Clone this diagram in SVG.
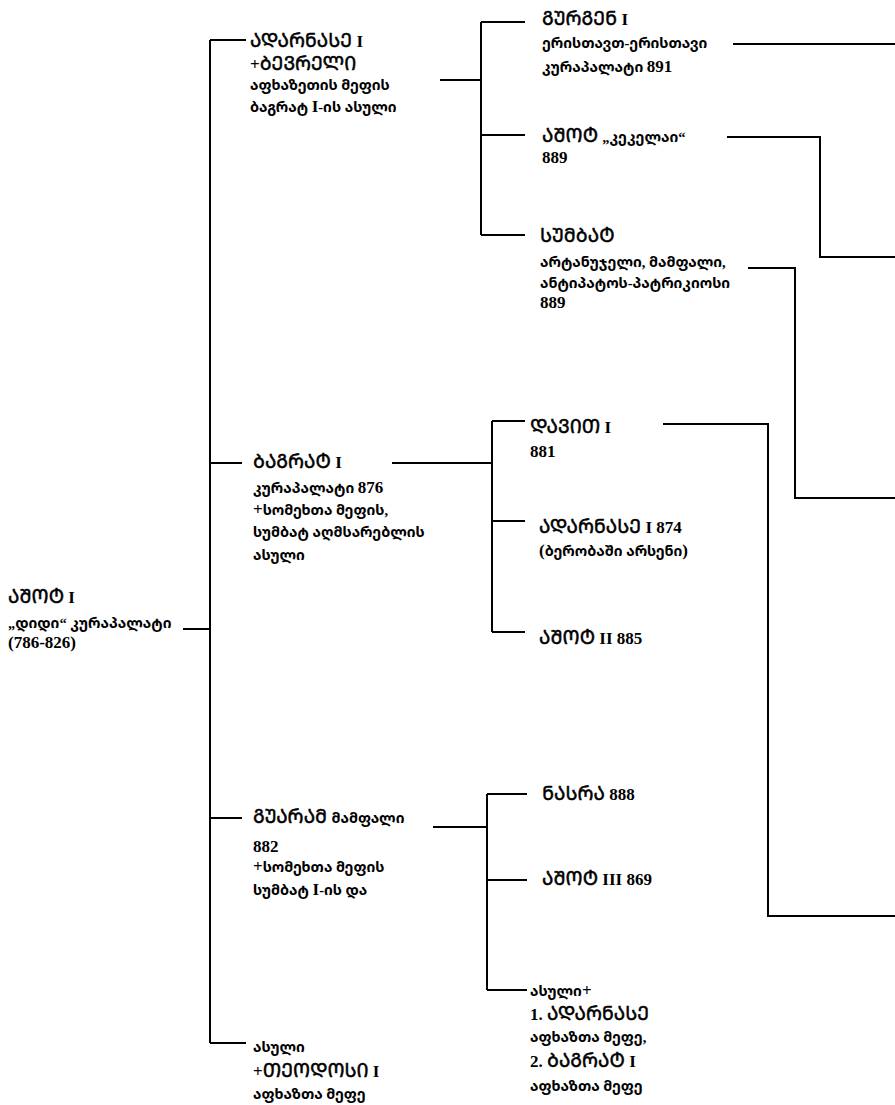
<svg xmlns="http://www.w3.org/2000/svg" width="895" height="1105" viewBox="0 0 895 1105">
<style>
.t{font-family:"Liberation Serif","Noto Sans Georgian","DejaVu Sans",serif;font-size:17px;font-weight:bold;fill:#000}
.m{font-size:19px;font-weight:normal;stroke:#000;stroke-width:0.5px}
.k{font-size:14.5px}
.c{stroke:#000;stroke-width:2;fill:none}
</style>
<rect width="895" height="1105" fill="#fff"/>
<g id="connectors">
<path class="c" d="M183 629H210M210 40V1043M210 40H246M210 463H242M210 818H242M210 1043H246"/>
<path class="c" d="M440 80H481M481 22V235M481 22H525M481 135H525M481 235H525"/>
<path class="c" d="M733 44H895"/>
<path class="c" d="M727 137H820V257H895"/>
<path class="c" d="M748 268H795V498H895"/>
<path class="c" d="M392 463H492M492 421V632M492 421H525M492 521H525M492 632H525"/>
<path class="c" d="M663 424H768V916H895"/>
<path class="c" d="M433 827H487M487 794V990M487 794H527M487 880H527M487 990H527"/>
</g>
<g id="ashot-i">
<text class="t" x="8" y="603"><tspan class="m">ᲐᲨᲝᲢ</tspan> I</text>
<text class="t k" x="8" y="628">„დიდი“ კურაპალატი</text>
<text class="t" x="8" y="648">(786-826)</text>
</g>
<g id="adarnase-i">
<text class="t" x="250" y="47"><tspan class="m">ᲐᲓᲐᲠᲜᲐᲡᲔ</tspan> I</text>
<text class="t" x="250" y="70">+<tspan class="m">ᲑᲔᲕᲠᲔᲚᲘ</tspan></text>
<text class="t k" x="250" y="90">აფხაზეთის მეფის</text>
<text class="t" x="250" y="112"><tspan class="k">ბაგრატ </tspan>I<tspan class="k">-ის ასული</tspan></text>
</g>
<g id="gurgen-i">
<text class="t" x="542" y="25"><tspan class="m">ᲒᲣᲠᲒᲔᲜ</tspan> I</text>
<text class="t k" x="542" y="48">ერისთავთ-ერისთავი</text>
<text class="t" x="542" y="72"><tspan class="k">კურაპალატი </tspan>891</text>
</g>
<g id="ashot-kekelai">
<text class="t" x="542" y="142"><tspan class="m">ᲐᲨᲝᲢ</tspan> <tspan class="k">„კეკელაი“</tspan></text>
<text class="t" x="542" y="163">889</text>
</g>
<g id="sumbat">
<text class="t m" x="540" y="242">ᲡᲣᲛᲑᲐᲢ</text>
<text class="t k" x="540" y="267">არტანუჯელი, მამფალი,</text>
<text class="t k" x="540" y="288">ანტიპატოს-პატრიკიოსი</text>
<text class="t" x="540" y="308">889</text>
</g>
<g id="bagrat-i">
<text class="t" x="253" y="468"><tspan class="m">ᲑᲐᲒᲠᲐᲢ</tspan> I</text>
<text class="t" x="253" y="493"><tspan class="k">კურაპალატი </tspan>876</text>
<text class="t" x="253" y="515">+<tspan class="k">სომეხთა მეფის,</tspan></text>
<text class="t k" x="253" y="537">სუმბატ აღმსარებლის</text>
<text class="t k" x="253" y="560">ასული</text>
</g>
<g id="davit-i">
<text class="t" x="530" y="433"><tspan class="m">ᲓᲐᲕᲘᲗ</tspan> I</text>
<text class="t" x="530" y="457">881</text>
</g>
<g id="adarnase-874">
<text class="t" x="539" y="533"><tspan class="m">ᲐᲓᲐᲠᲜᲐᲡᲔ</tspan> I 874</text>
<text class="t" x="539" y="556">(<tspan class="k">ბერობაში არსენი</tspan>)</text>
</g>
<g id="ashot-ii">
<text class="t" x="539" y="644"><tspan class="m">ᲐᲨᲝᲢ</tspan> II 885</text>
</g>
<g id="guaram">
<text class="t" x="253" y="823"><tspan class="m">ᲒᲣᲐᲠᲐᲛ</tspan> <tspan class="k">მამფალი</tspan></text>
<text class="t" x="253" y="852">882</text>
<text class="t" x="253" y="872">+<tspan class="k">სომეხთა მეფის</tspan></text>
<text class="t" x="253" y="895"><tspan class="k">სუმბატ </tspan>I<tspan class="k">-ის და</tspan></text>
</g>
<g id="nasra">
<text class="t" x="542" y="800"><tspan class="m">ᲜᲐᲡᲠᲐ</tspan> 888</text>
</g>
<g id="ashot-iii">
<text class="t" x="542" y="885"><tspan class="m">ᲐᲨᲝᲢ</tspan> III 869</text>
</g>
<g id="daughter-guaram">
<text class="t" x="530" y="996"><tspan class="k">ასული</tspan>+</text>
<text class="t" x="530" y="1020">1. <tspan class="m">ᲐᲓᲐᲠᲜᲐᲡᲔ</tspan></text>
<text class="t k" x="530" y="1042">აფხაზთა მეფე,</text>
<text class="t" x="530" y="1067">2. <tspan class="m">ᲑᲐᲒᲠᲐᲢ</tspan> I</text>
<text class="t k" x="530" y="1091">აფხაზთა მეფე</text>
</g>
<g id="daughter-ashot">
<text class="t k" x="253" y="1052">ასული</text>
<text class="t" x="253" y="1077">+<tspan class="m">ᲗᲔᲝᲓᲝᲡᲘ</tspan> I</text>
<text class="t k" x="253" y="1099">აფხაზთა მეფე</text>
</g>
</svg>
